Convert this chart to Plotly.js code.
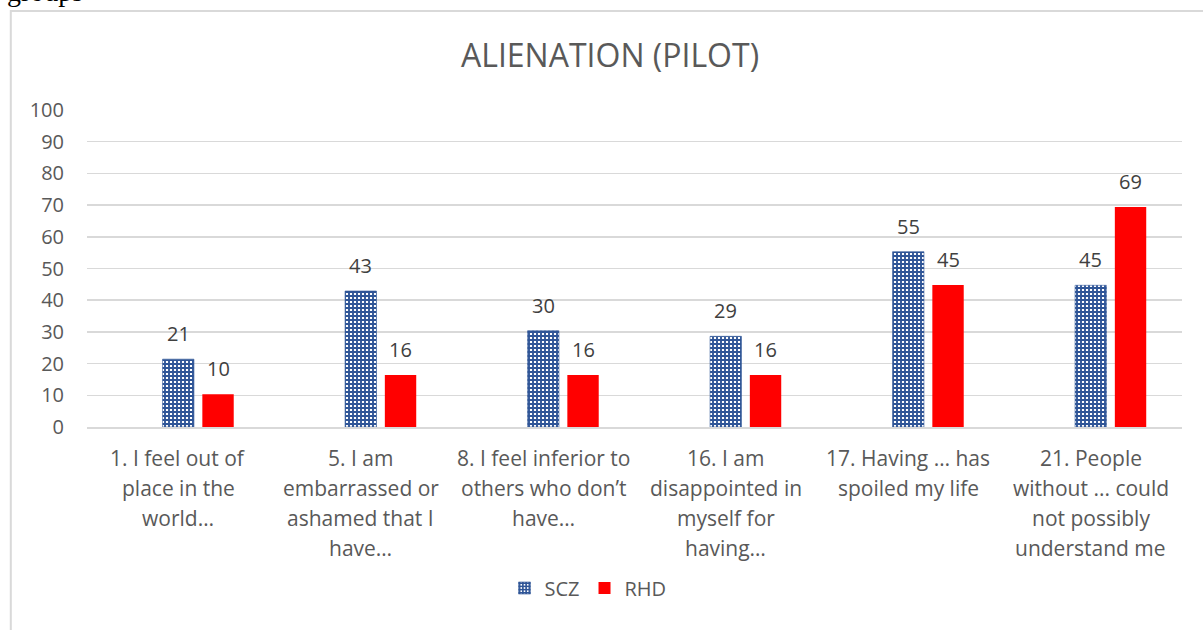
<!DOCTYPE html>
<html>
<head>
<meta charset="utf-8">
<script src="https://cdn.plot.ly/plotly-3.0.1.min.js"></script>
<style>
html,body{margin:0;padding:0;background:#fff;}
#chart{width:1203px;height:630px;}
</style>
</head>
<body>
<div id="chart"></div>
<script>
// ---- data ----
const categoryLines = [
  ["1. I feel out of", "place in the", "world…"],
  ["5. I am", "embarrassed or", "ashamed that I", "have…"],
  ["8. I feel inferior to", "others who don’t", "have…"],
  ["16. I am", "disappointed in", "myself for", "having…"],
  ["17. Having … has", "spoiled my life"],
  ["21. People", "without ... could", "not possibly", "understand me"]
];
const categories = categoryLines.map(l => l.join(" "));
const sczValues = [21.4, 42.9, 30.4, 28.6, 55.3, 44.7];
const rhdValues = [10.3, 16.4, 16.4, 16.4, 44.8, 69.4];
const seriesNames = ["SCZ", "RHD"];
const chartTitle = "ALIENATION (PILOT)";
const yTicks = [0, 10, 20, 30, 40, 50, 60, 70, 80, 90, 100];

// ---- layout helpers ----
const W = 1203, H = 630;
const M = {l: 87, r: 21, t: 110, b: 203};
const plotW = W - M.l - M.r, plotH = H - M.t - M.b;
const px2x = p => (p - M.l) / plotW;
const py2y = p => (H - M.b - p) / plotH;

const font = "'Open Sans', Lato, sans-serif";
const grey = "#595959";
const blue = "#2F5597";
const red = "#FF0000";

const barW = 0.172;
const sczOff = -0.086;
const rhdOff = 0.132;

const traces = [
  {
    type: "bar", name: seriesNames[0], x: categories, y: sczValues,
    width: barW, offset: sczOff,
    marker: {
      color: blue,
      pattern: {shape: "+", fgcolor: blue, bgcolor: "#ffffff", size: 4, solidity: 0.72, fillmode: "replace"},
      line: {color: blue, width: 0.6}
    },
    hoverinfo: "y"
  },
  {
    type: "bar", name: seriesNames[1], x: categories, y: rhdValues,
    width: barW, offset: rhdOff,
    marker: {color: red},
    hoverinfo: "y"
  }
];

const annotations = [];
// data labels
const catPx = plotW / categories.length;
categories.forEach((c, i) => {
  annotations.push({x: c, y: sczValues[i], xref: "x", yref: "y", text: String(Math.round(sczValues[i])),
    showarrow: false, yanchor: "bottom", xanchor: "center",
    xshift: (sczOff + barW / 2) * catPx, yshift: 10,
    font: {family: font, size: 20, color: "#404040"}});
  annotations.push({x: c, y: rhdValues[i], xref: "x", yref: "y", text: String(Math.round(rhdValues[i])),
    showarrow: false, yanchor: "bottom", xanchor: "center",
    xshift: (rhdOff + barW / 2) * catPx, yshift: 10,
    font: {family: font, size: 20, color: "#404040"}});
});
// category labels (one annotation per line, Excel-like line spacing)
categoryLines.forEach((lines, i) => {
  lines.forEach((ln, j) => {
    annotations.push({x: categories[i], xref: "x", yref: "paper", y: py2y(458 + 30 * j),
      text: ln, showarrow: false, yanchor: "middle", xanchor: "center",
      font: {family: font, size: 21, color: grey}});
  });
});
// cut-off document text above the chart frame
annotations.push({xref: "paper", yref: "paper", x: px2x(5), y: py2y(9), text: "groups",
  showarrow: false, xanchor: "left", yanchor: "bottom",
  font: {family: "'Liberation Serif', 'Times New Roman', serif", size: 28, color: "#000"}});

const shapes = [
  {type: "line", xref: "paper", yref: "paper", x0: px2x(10.8), x1: px2x(10.8), y0: py2y(10), y1: py2y(632),
    line: {color: "#d9d9d9", width: 2}},
  {type: "line", xref: "paper", yref: "paper", x0: px2x(10), x1: px2x(1203), y0: py2y(11), y1: py2y(11),
    line: {color: "#d9d9d9", width: 2}}
];

const layout = {
  width: W, height: H,
  margin: M,
  paper_bgcolor: "#fff", plot_bgcolor: "#fff",
  barmode: "overlay",
  showlegend: true,
  title: {text: chartTitle, x: 610 / W, xanchor: "center", y: 1 - 56 / H, yanchor: "middle",
    font: {family: font, size: 32, color: grey}},
  xaxis: {
    type: "category", showticklabels: false, showgrid: false, zeroline: false,
    showline: true, linecolor: "#d9d9d9", linewidth: 1.5, ticks: ""
  },
  yaxis: {
    range: [0, 100], tickvals: yTicks, ticktext: yTicks.map(String),
    showgrid: true, gridcolor: "#d9d9d9", gridwidth: 1.5,
    zeroline: false, showline: false, ticks: "",
    ticklabelstandoff: 22,
    tickfont: {family: font, size: 20, color: grey}
  },
  legend: {
    orientation: "h", x: px2x(588), xanchor: "center", y: py2y(588), yanchor: "middle",
    font: {family: font, size: 20, color: grey}, itemwidth: 30, traceorder: "normal"
  },
  annotations: annotations,
  shapes: shapes
};

Plotly.newPlot("chart", traces, layout, {displayModeBar: false, staticPlot: true});
</script>
</body>
</html>
